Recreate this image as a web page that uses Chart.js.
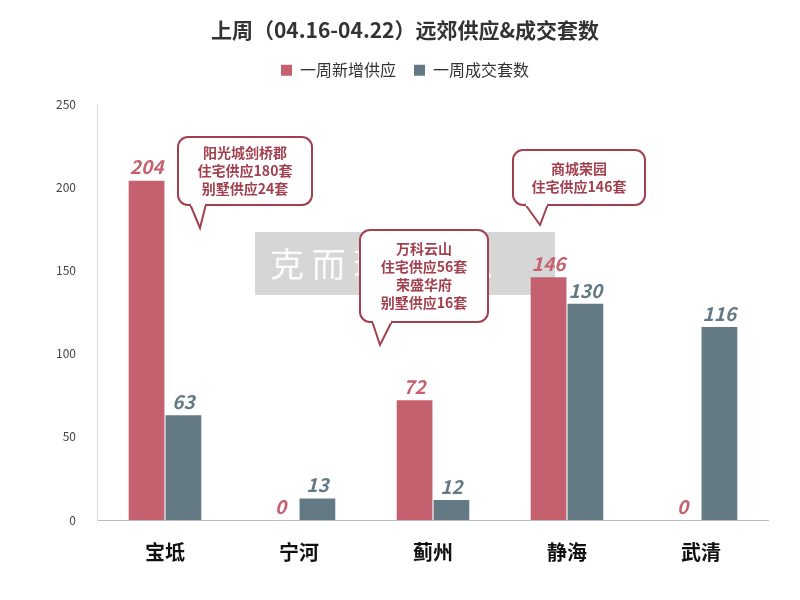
<!DOCTYPE html>
<html><head><meta charset="utf-8">
<script src="https://cdn.jsdelivr.net/npm/chart.js@4"></script>
<style>body{margin:0;background:#fff}#w{width:800px;height:600px}</style>
</head><body><div id="w"><canvas id="c"></canvas></div>
<script>
const categories=['宝坻','宁河','蓟州','静海','武清'];
const newSupply=[204,0,72,146,0];
const deals=[63,13,12,130,116];
const yTicks=[0,50,100,150,200,250];
const calloutLines=[
 ['阳光城剑桥郡','住宅供应180套','别墅供应24套'],
 ['万科云山','住宅供应56套','荣盛华府','别墅供应16套'],
 ['商城荣园','住宅供应146套']
];
const RED='#C5616F',GRAY='#637A85',DARK='#A3404F';
const FONT='"Noto Sans CJK SC","Noto Sans",sans-serif';
function rr(ctx,x,y,w,h,r){ctx.beginPath();ctx.moveTo(x+r,y);ctx.arcTo(x+w,y,x+w,y+h,r);ctx.arcTo(x+w,y+h,x,y+h,r);ctx.arcTo(x,y+h,x,y,r);ctx.arcTo(x,y,x+w,y,r);ctx.closePath();}
const boxes=[[178,137,134,68,190,200,206],[360,230,128,92,372,380,392],[513,150,132,55,525,540,548]];
const plug={id:'extra',
 beforeLayout(ch){const lg=ch.legend;if(lg&&!lg._wrapped){const f=lg.fit.bind(lg);lg.fit=function(){f();this.height+=16;this.minSize&&(this.minSize.height=this.height);};lg._wrapped=true;}},
 beforeDatasetsDraw(ch){const ctx=ch.ctx;ctx.save();ctx.fillStyle='rgba(200,200,200,0.75)';ctx.fillRect(255,232,300,63);
  ctx.fillStyle='rgba(255,255,255,0.9)';ctx.font='34px '+FONT;ctx.textBaseline='middle';ctx.textAlign='left';
  ctx.fillText('克 而 瑞    信 息',270,264);ctx.restore();},
 afterDatasetsDraw(ch){const ctx=ch.ctx;ctx.save();
  ch.data.datasets.forEach((ds,i)=>{const m=ch.getDatasetMeta(i);m.data.forEach((b,j)=>{
   ctx.fillStyle=i?GRAY:RED;ctx.font='italic bold 19px '+FONT;ctx.textAlign='center';ctx.textBaseline='bottom';
   ctx.fillText(ds.data[j],b.x,b.y-4);});});
  const tips=[[200,228],[380,345],[540,225]];
  calloutLines.forEach((lines,k)=>{const [left,top,w,h,p1,,p2]=boxes[k];const [tx,ty]=tips[k];
   ctx.fillStyle='#fff';ctx.strokeStyle=DARK;ctx.lineWidth=2;
   rr(ctx,left,top,w,h,10);ctx.fill();ctx.stroke();
   ctx.beginPath();ctx.moveTo(p1,top+h-1);ctx.lineTo(tx,ty);ctx.lineTo(p2,top+h-1);
   ctx.fill();ctx.stroke();ctx.fillStyle='#fff';ctx.fillRect(p1+1,top+h-3,p2-p1-2,4);
   ctx.fillStyle=DARK;ctx.font='bold 14px '+FONT;ctx.textAlign='center';ctx.textBaseline='middle';
   const lh=18,st=top+h/2-(lines.length-1)*lh/2;lines.forEach((t,i)=>ctx.fillText(t,left+w/2,st+i*lh));});
  ctx.restore();}};
new Chart(document.getElementById('c'),{type:'bar',
 data:{labels:categories,datasets:[
  {label:'一周新增供应',data:newSupply,backgroundColor:RED,categoryPercentage:0.55,barPercentage:0.97},
  {label:'一周成交套数',data:deals,backgroundColor:GRAY,categoryPercentage:0.55,barPercentage:0.97}]},
 options:{responsive:true,maintainAspectRatio:false,animation:false,
  layout:{padding:{left:42,right:32,top:5,bottom:24}},
  plugins:{title:{display:true,text:'上周（04.16-04.22）远郊供应&成交套数',font:{size:21,weight:'bold',family:FONT},color:'#333',padding:{top:12,bottom:2}},
   legend:{labels:{boxWidth:11,boxHeight:11,font:{size:16,family:FONT},color:'#333',padding:18}},tooltip:{enabled:false}},
  scales:{x:{grid:{display:false},border:{color:'#bbb'},ticks:{font:{size:20,weight:'bold',family:FONT},color:'#111',padding:12}},
   y:{min:0,max:250,afterBuildTicks:a=>{a.ticks=yTicks.map(v=>({value:v}))},grid:{display:false},border:{color:'#ddd'},ticks:{font:{size:12,family:FONT},color:'#444',padding:14}}}}
 ,plugins:[plug]});
</script></body></html>
